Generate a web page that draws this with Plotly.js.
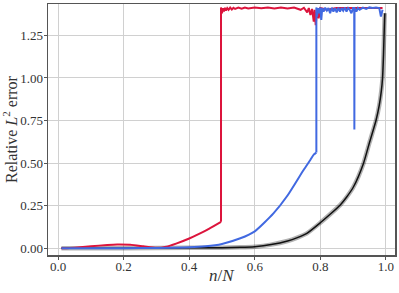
<!DOCTYPE html>
<html>
<head>
<meta charset="utf-8">
<script src="https://cdn.plot.ly/plotly-3.0.1.min.js"></script>
<style>
  html, body { margin: 0; padding: 0; background: #fff; }
  #grafica { width: 399px; height: 293px; }
</style>
</head>
<body>
<div id="grafica"></div>
<script>
// valores (n/N, error relativo L2)
// tramo suave (antes del salto) y tramo ruidoso (despues del salto)
const rojoBajoX = [0.01, 0.05, 0.1, 0.15, 0.18, 0.22, 0.26, 0.3, 0.33, 0.36, 0.4, 0.43, 0.46, 0.497];
const rojoBajoY = [0, 0.004, 0.012, 0.02, 0.023, 0.021, 0.012, 0.003, 0.01, 0.028, 0.058, 0.085, 0.115, 0.156];
const rojoAltoX = [0.497, 0.497, 0.500, 0.503, 0.506, 0.509, 0.512, 0.516, 0.520, 0.525, 0.530, 0.535, 0.540, 0.550, 0.560,
  0.570, 0.580, 0.600, 0.620, 0.640, 0.660, 0.680, 0.700, 0.720, 0.740, 0.750, 0.760, 0.765, 0.770,
  0.775, 0.780, 0.783, 0.786, 0.790, 0.795, 0.800, 0.820, 0.850, 0.900, 0.990];
const rojoAltoY = [0.156, 1.414, 1.38, 1.41, 1.39, 1.412, 1.395, 1.41, 1.40, 1.413, 1.402, 1.412, 1.405, 1.413, 1.406,
  1.413, 1.408, 1.413, 1.409, 1.414, 1.408, 1.413, 1.407, 1.413, 1.40, 1.412, 1.385, 1.41, 1.37,
  1.405, 1.33, 1.40, 1.31, 1.39, 1.35, 1.41, 1.40, 1.41, 1.41, 1.41];

const azulBajoX = [0.01, 0.1, 0.2, 0.3, 0.4, 0.45, 0.5, 0.556, 0.6, 0.657, 0.7, 0.749, 0.77, 0.78, 0.788];
const azulBajoY = [0, 0, 0.001, 0.002, 0.006, 0.012, 0.026, 0.059, 0.10, 0.205, 0.31, 0.46, 0.52, 0.55, 0.562];
const azulAltoX = [0.788, 0.788, 0.790, 0.793, 0.796, 0.800, 0.803, 0.806, 0.810, 0.815, 0.820, 0.825, 0.830, 0.835, 0.840,
  0.845, 0.850, 0.855, 0.860, 0.865, 0.870, 0.875, 0.880, 0.885, 0.890, 0.895, 0.900, 0.9035, 0.904,
  0.9045, 0.910, 0.915, 0.920, 0.930, 0.940, 0.950, 0.960, 0.970, 0.980, 0.985, 0.990];
const azulAltoY = [0.562, 1.414, 1.36, 1.41, 1.38, 1.413, 1.34, 1.41, 1.39, 1.412, 1.395, 1.41, 1.38, 1.412, 1.39,
  1.41, 1.385, 1.412, 1.39, 1.41, 1.395, 1.413, 1.39, 1.41, 1.40, 1.38, 1.41, 1.41, 0.697,
  1.41, 1.39, 1.41, 1.40, 1.413, 1.405, 1.414, 1.41, 1.414, 1.41, 1.36, 1.40];

const negroX = [0.01, 0.2, 0.4, 0.5, 0.556, 0.6, 0.65, 0.7, 0.73, 0.759, 0.8, 0.83, 0.861, 0.88, 0.901, 0.932, 0.95,
  0.97, 0.98, 0.986, 0.99, 0.993, 0.996, 0.997];
const negroY = [0, 0.001, 0.003, 0.004, 0.006, 0.01, 0.022, 0.043, 0.063, 0.088, 0.15, 0.2, 0.255, 0.3, 0.36, 0.5, 0.62,
  0.75, 0.84, 0.92, 1.0, 1.14, 1.34, 1.38];

const ticksX = [0, 0.2, 0.4, 0.6, 0.8, 1.0];
const ticksY = [0, 0.25, 0.5, 0.75, 1.0, 1.25];

const fuente = "'Liberation Serif', 'Times New Roman', serif";
const rojo = '#dc143c', azul = '#4169e1';

const trazas = [
  { x: negroX, y: negroY, mode: 'lines', type: 'scatter',
    line: { color: 'rgba(0,0,0,0.3)', width: 4.5, shape: 'spline', smoothing: 0.6 } },
  { x: negroX, y: negroY, mode: 'lines', type: 'scatter',
    line: { color: '#111111', width: 1.5, shape: 'spline', smoothing: 0.6 } },
  { x: rojoBajoX, y: rojoBajoY, mode: 'lines', type: 'scatter',
    line: { color: rojo, width: 2, shape: 'spline', smoothing: 0.6 } },
  { x: rojoAltoX, y: rojoAltoY, mode: 'lines', type: 'scatter',
    line: { color: rojo, width: 2 } },
  { x: azulBajoX, y: azulBajoY, mode: 'lines', type: 'scatter',
    line: { color: azul, width: 2, shape: 'spline', smoothing: 0.6 } },
  { x: azulAltoX, y: azulAltoY, mode: 'lines', type: 'scatter',
    line: { color: azul, width: 2 } }
];

const ejeComun = {
  showgrid: true, gridcolor: '#d0d0d0', gridwidth: 1,
  zeroline: false, showline: true, linecolor: '#555', linewidth: 1.5, mirror: true,
  ticks: 'outside', ticklen: 3, tickcolor: '#555', tickwidth: 1,
  tickfont: { family: fuente, size: 13, color: '#333' }
};

Plotly.newPlot('grafica', trazas, {
  width: 399, height: 293,
  margin: { l: 48, r: 4, t: 4, b: 38 },
  paper_bgcolor: '#fff', plot_bgcolor: '#fff',
  showlegend: false,
  font: { family: fuente },
  xaxis: Object.assign({}, ejeComun, {
    range: [-0.031, 1.028], tickvals: ticksX, ticktext: ticksX.map(v => v.toFixed(1)),
    ticklabelstandoff: -4
  }),
  yaxis: Object.assign({}, ejeComun, {
    range: [-0.039, 1.434], tickvals: ticksY, ticktext: ticksY.map(v => v.toFixed(2)),
    ticklabelstandoff: -2,
    title: { text: 'Relative <i>L</i><sup>2</sup> error', font: { family: fuente, size: 16, color: '#333' }, standoff: 2 }
  }),
  annotations: [{
    text: '<i>n</i>/<i>N</i>', xref: 'paper', yref: 'paper', x: 0.5, y: -0.08,
    xanchor: 'center', yanchor: 'middle', showarrow: false,
    font: { family: fuente, size: 17, color: '#333' }
  }]
}, { staticPlot: true });
</script>
</body>
</html>
